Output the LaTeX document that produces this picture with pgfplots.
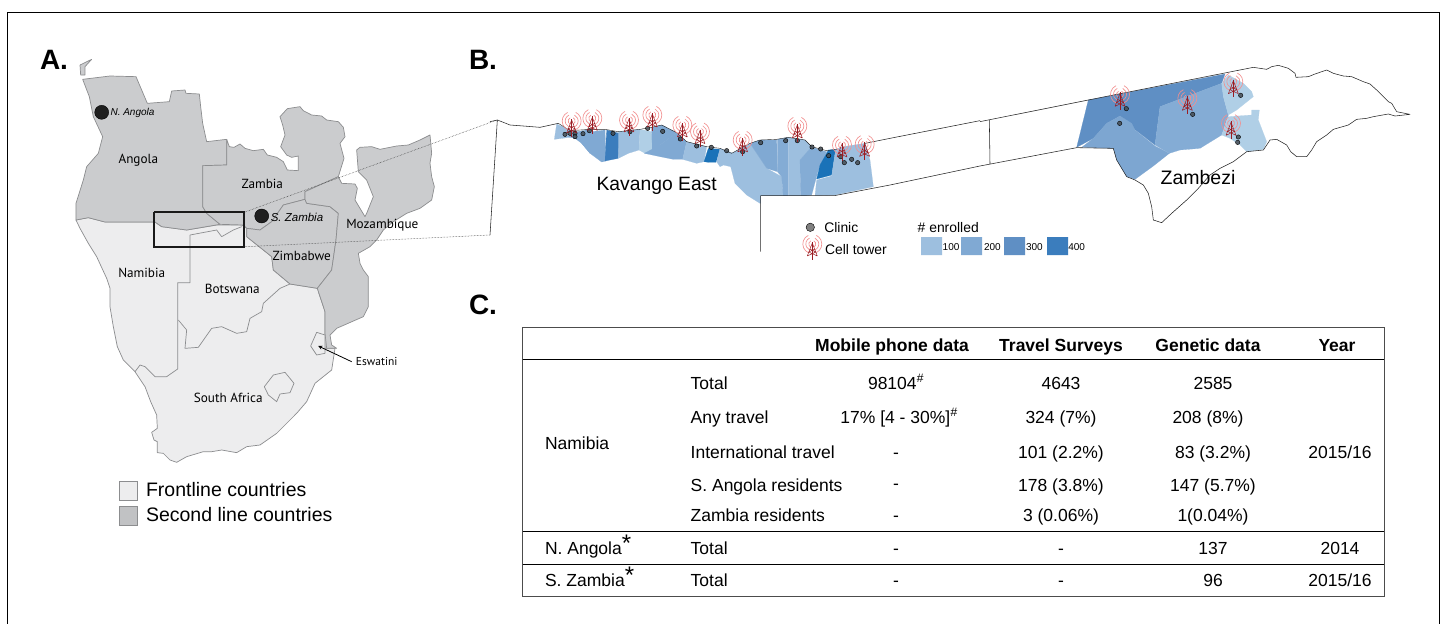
\documentclass[border=0pt]{standalone}
\usepackage{fontspec}
\setmainfont{Liberation Sans}
\newfontfamily\mapf{PT Sans}
\usepackage{pgfplots}
\pgfplotsset{compat=1.18}
\definecolor{front}{HTML}{EDEDEE}
\definecolor{second}{HTML}{CBCCCE}
\definecolor{edge}{HTML}{8C8D8F}
\definecolor{lb}{HTML}{B0CFE6}
\definecolor{ba}{HTML}{9DBFDF}
\definecolor{bb}{HTML}{80A9D3}
\definecolor{bc}{HTML}{5F8FC4}
\definecolor{bd}{HTML}{3B7DBD}
\definecolor{be}{HTML}{1A72B8}
\definecolor{clin}{HTML}{444B52}
\definecolor{towerred}{HTML}{9C1C22}
\definecolor{towerpink}{HTML}{F29090}
\pgfdeclareplotmark{tower}{%
  \pgfsetlinewidth{0.65pt}\pgfsetstrokecolor{towerpink}
  \foreach \r in {3.5,6.5,9.5}{%
    \pgfpathmoveto{\pgfpointpolar{-65}{\r pt}}
    \pgfpatharc{-65}{65}{\r pt}
    \pgfpathmoveto{\pgfpointpolar{115}{\r pt}}
    \pgfpatharc{115}{245}{\r pt}
    \pgfusepathqstroke}
  \pgfsetstrokecolor{towerred}\pgfsetlinewidth{0.9pt}
  \pgfpathmoveto{\pgfpoint{0pt}{2pt}}\pgfpathlineto{\pgfpoint{0pt}{-15.5pt}}\pgfusepathqstroke
  \pgfsetlinewidth{0.5pt}
  \pgfpathmoveto{\pgfpoint{-5pt}{-12pt}}\pgfpathlineto{\pgfpoint{0pt}{1pt}}\pgfpathlineto{\pgfpoint{5pt}{-12pt}}
  \pgfpathmoveto{\pgfpoint{-5pt}{-12pt}}\pgfpathlineto{\pgfpoint{3.5pt}{-8pt}}\pgfpathlineto{\pgfpoint{-2.5pt}{-5pt}}
  \pgfpathmoveto{\pgfpoint{5pt}{-12pt}}\pgfpathlineto{\pgfpoint{-3.5pt}{-8pt}}\pgfpathlineto{\pgfpoint{2.5pt}{-5pt}}
  \pgfusepathqstroke}
\pgfplotsset{
  A/.style={x filter/.expression={30+x/3},y filter/.expression={40+y/3}},
  K/.style={x filter/.expression={490+x/3},y filter/.expression={90+y/3}},
  Z/.style={x filter/.expression={980+x/3},y filter/.expression={60+y/3}},
  land/.style={A,draw=edge,line width=0.7pt,line join=round},
  reg/.style={fill=#1,draw=#1,line width=0.15pt,line join=round},
  blk/.style={black!85,line width=0.55pt,line join=round},
  clinics/.style={only marks,mark=*,mark size=2.2pt,mark options={draw=none,fill=clin,fill opacity=0.85}},
  towers/.style={only marks,mark=tower},
}
\newcommand{\tf}{\fontsize{17.5}{20}\selectfont}
\newcommand{\mf}{\mapf\fontsize{13.2}{16}\selectfont}
\tikzset{tt/.style={font=\tf,text height=15pt,text depth=3pt},
         th/.style={font=\bfseries\tf,text height=15pt,text depth=3pt}}
\begin{document}
\begin{tikzpicture}[every node/.style={inner sep=0pt,outer sep=0pt}]
\begin{axis}[scale only axis,width=1444pt,height=624pt,xmin=0,xmax=1444,ymin=0,ymax=624,y dir=reverse,hide axis,clip=true]
% background and frame
\addplot[fill=white,draw=none] coordinates {(0,0)(1444,0)(1444,624)(0,624)(0,0)};
\addplot[black,line width=0.8pt] coordinates {(7,640)(7,12)(1439,12)(1439,640)};
% ---- A: frontline countries
\addplot[land,fill=front] coordinates {(138,540)(150,565)(175,610)(200,650)(230,715)(240,745)(240,800)(250,860)(262,920)(280,960)(315,995)(345,1040)(362,1085)(380,1125)(382,1165)(365,1177)(372,1200)(382,1205)(382,1238)(400,1240)(420,1260)(440,1267)(470,1250)(520,1235)(545,1235)(575,1230)(620,1238)(650,1220)(690,1215)(740,1180)(800,1120)(830,1085)(855,1030)(880,1010)(905,990)(915,925)(885,925)(885,880)(885,815)(862,745)(780,732)(730,690)(725,650)(650,590)(650,565)(635,555)(560,555)(470,570)(395,560)(375,546)(225,546)(175,533)(138,540)};
% internal borders
\addplot[land] coordinates {(480,585)(480,728)(443,728)(443,987)(410,1010)(375,1010)(345,980)(330,975)(315,995)};
\addplot[land] coordinates {(445,840)(470,870)(465,925)(505,922)(545,865)(575,860)(620,880)(650,875)(660,835)(695,815)(700,790)(750,745)(780,732)};
\addplot[land] coordinates {(480,585)(560,570)(575,590)(610,570)(635,560)};
\addplot[land,fill=front] coordinates {(703,1040)(730,1005)(765,997)(792,1030)(780,1058)(750,1062)(740,1085)(715,1065)(703,1040)};
% ---- A: second line countries
\addplot[land,fill=second] coordinates {(150,75)(185,58)(165,80)(165,105)(152,105)(150,75)};
\addplot[land,fill=second] coordinates {(158,118)(240,108)(318,110)(352,190)(418,185)(425,153)(465,150)(468,160)(508,162)(512,200)(518,250)(530,305)(590,298)(590,375)(518,377)(518,500)(530,520)(570,553)(470,570)(395,560)(375,546)(225,546)(175,533)(138,540)(138,490)(160,420)(170,380)(205,340)(218,290)(190,230)(178,170)(158,118)};
\addplot[land,fill=second] coordinates {(590,298)(598,320)(612,322)(630,312)(645,325)(670,332)(700,328)(712,345)(740,352)(760,365)(772,390)(805,392)(805,348)(785,352)(770,345)(752,320)(765,285)(758,255)(750,230)(772,206)(810,200)(820,212)(845,225)(875,228)(890,240)(925,245)(940,262)(945,290)(930,310)(942,355)(925,410)(825,455)(825,478)(760,495)(725,545)(690,570)(650,565)(640,555)(570,553)(530,520)(518,500)(518,377)(590,375)(590,298)};
\addplot[land,fill=second] coordinates {(650,565)(690,570)(725,545)(760,495)(825,478)(830,490)(900,500)(925,520)(918,600)(905,690)(862,745)(780,732)(730,690)(725,650)(650,590)(650,565)};
\addplot[land,fill=second] coordinates {(825,455)(925,410)(935,430)(975,432)(982,445)(975,480)(1005,530)(1010,520)(1030,470)(1010,420)(985,395)(980,330)(990,322)(1025,320)(1050,328)(1100,318)(1135,315)(1170,300)(1200,285)(1205,340)(1200,370)(1205,410)(1213,440)(1205,480)(1170,505)(1130,520)(1090,545)(1060,570)(1040,600)(1020,620)(985,640)(990,670)(1000,690)(1015,710)(1015,800)(1000,830)(920,865)(900,885)(905,915)(920,925)(890,925)(885,880)(885,815)(862,745)(905,690)(918,600)(925,520)(900,500)(830,490)(825,478)(825,455)};
\addplot[land,fill=front] coordinates {(860,877)(885,885)(885,940)(860,945)(842,918)(860,877)};
% box and guide lines
\addplot[A,black!90,line width=2.3pt,line join=miter] coordinates {(372,516)(642,516)(642,620)(372,620)(372,516)};
\addplot[black!80,line width=0.5pt,densely dotted] coordinates {(245,212)(497,120)};
\addplot[black!80,line width=0.5pt,densely dotted] coordinates {(245,246.7)(490,235)};
\addplot[black,line width=0.8pt,-stealth] coordinates {(351.7,361.7)(318.3,346)};
% dots
\addplot[only marks,mark=*,mark size=7pt,mark options={draw=none,fill=black!88}] coordinates {(101.7,112.3)(261.7,216)};
% legend A
\addplot[draw=edge,line width=0.7pt,fill=front] coordinates {(119,481.7)(137.7,481.7)(137.7,500)(119,500)(119,481.7)};
\addplot[draw=edge,line width=0.7pt,fill=second!95!black] coordinates {(119,506.7)(137.7,506.7)(137.7,525)(119,525)(119,506.7)};
% ---- B: Kavango regions (zoom units)
\addplot[K,reg=ba] coordinates {(193,148)(200,102)(240,120)(262,125)(240,142)(193,148)};
\addplot[K,reg=bb] coordinates {(232,140)(262,125)(300,118)(300,190)(275,160)(255,145)(232,140)};
\addplot[K,reg=bb] coordinates {(265,130)(345,120)(348,213)(335,216)(300,190)(275,160)(265,130)};
\addplot[K,reg=bd] coordinates {(350,120)(388,130)(385,205)(345,213)(350,120)};
\addplot[K,reg=ba] coordinates {(385,125)(450,118)(447,180)(415,190)(385,205)(385,125)};
\addplot[K,reg=lb] coordinates {(450,118)(485,125)(487,188)(465,190)(447,180)(450,118)};
\addplot[K,reg=bb] coordinates {(485,112)(515,105)(560,128)(510,165)(487,188)(485,112)};
\addplot[K,reg=bb] coordinates {(560,128)(590,155)(578,208)(550,208)(510,200)(463,190)(510,165)(560,128)};
\addplot[K,reg=ba] coordinates {(590,155)(650,170)(642,215)(620,220)(578,208)(590,155)};
\addplot[K,reg=be] coordinates {(655,175)(690,178)(678,217)(655,217)(642,215)(655,175)};
\addplot[K,reg=ba] coordinates {(690,175)(730,190)(722,230)(700,225)(690,230)(680,215)(690,175)};
\addplot[K,reg=ba] coordinates {(725,190)(780,160)(830,235)(875,260)(880,320)(810,340)(770,315)(735,280)(722,230)(725,190)};
\addplot[K,reg=bb] coordinates {(780,160)(810,150)(860,150)(862,245)(830,235)(780,160)};
\addplot[K,reg=bb!85!ba] coordinates {(862,148)(895,142)(895,320)(880,320)(875,260)(862,245)(862,148)};
\addplot[K,reg=ba] coordinates {(895,142)(945,150)(965,170)(930,210)(932,320)(895,320)(895,142)};
\addplot[K,reg=bb!85!ba] coordinates {(930,210)(965,170)(990,180)(1010,185)(985,240)(965,315)(932,320)(930,210)};
\addplot[K,reg=be] coordinates {(1015,180)(1037,178)(1025,255)(980,267)(990,225)(1015,180)};
\addplot[K,reg=ba] coordinates {(1037,178)(1060,170)(1125,160)(1140,210)(1150,290)(1035,315)(975,317)(980,270)(1025,258)(1037,178)};
% white cover below the Kavango cut-out
\addplot[fill=white,draw=none] coordinates {(761,196)(834,196)(834,260)(761,260)(761,196)};
% Kavango outline
\addplot[K,blk] coordinates {(0,95)(22,90)(40,97)(60,105)(100,108)(150,112)(205,100)};
\addplot[K,blk] coordinates {(22,90)(0,435)};
\addplot[K,blk,line width=0.4pt] coordinates {(205,100)(240,122)(300,118)(345,118)(385,125)(450,118)(485,112)(515,105)(560,128)(590,155)(650,170)(690,175)(725,190)(780,160)(810,150)(860,148)(895,142)(945,150)(965,170)(1010,182)(1040,178)};
\addplot[K,blk] coordinates {(1125,160)(1200,145)(1470,92)};
\addplot[K,blk] coordinates {(812,485)(812,317)(1033,317)(1200,285)(1470,228)};
% ---- B: Zambezi regions
\addplot[Z,reg=bc] coordinates {(325,120)(735,42)(725,70)(540,140)(525,255)(460,205)(420,168)(380,190)(340,235)(290,262)(325,120)};
\addplot[Z,reg=bb!90!bc] coordinates {(305,262)(340,235)(380,190)(420,168)(455,190)(465,210)(525,258)(568,280)(520,318)(465,358)(440,350)(410,300)(400,265)(305,262)};
\addplot[Z,reg=bb!85!ba] coordinates {(540,140)(725,70)(730,110)(745,165)(725,225)(660,265)(600,270)(568,280)(525,255)(540,140)};
\addplot[Z,reg=lb] coordinates {(725,70)(745,45)(790,70)(815,95)(820,110)(770,150)(745,165)(730,110)(725,70)};
\addplot[Z,reg=lb] coordinates {(725,225)(745,170)(815,165)(815,150)(838,150)(835,180)(860,245)(850,268)(800,275)(780,255)(750,235)(725,225)};
\addplot[Z,blk] coordinates {(0,185)(325,120)(820,22)(860,28)(875,20)(895,16)(925,25)(945,40)(948,52)(985,50)(1005,42)(1040,30)(1060,40)(1090,48)(1115,50)(1150,65)(1170,72)(1190,90)(1205,105)(1225,125)(1235,130)(1250,155)(1290,163)(1245,168)(1225,162)(1180,170)(1160,175)(1130,178)(1105,195)(1060,208)(1040,225)(1010,245)(995,270)(980,290)(950,290)(932,275)(920,255)(890,238)(870,240)(850,270)(800,275)(760,305)(720,325)(690,345)(655,385)(620,420)(575,460)(545,488)(520,480)(515,440)(505,400)(490,375)(465,360)(440,350)(410,300)(400,265)(290,263)(0,318)};
\addplot[Z,blk] coordinates {(28,180)(30,312)};
% clinics
\addplot[K,clinics] coordinates {(225,133)(240,130)(255,130)(255,140)(279,131)(298,122)(369,130)(420,125)(473,115)(518,124)(571,147)(620,168)(664,172)(710,182)(758,185)(812,158)(887,152)(922,152)(966,171)(992,177)(1016,197)(1052,200)(1063,218)(1085,208)(1103,218)};
\addplot[Z,clinics] coordinates {(439,146)(419,190)(638,163)(782,106)(775,231)(773,247)};
% towers
\addplot[K,towers] coordinates {(245,93)(307,85)(417,90)(487,75)(577,105)(630,125)(758,150)(922,108)(1056,165)(1124,163)};
\addplot[Z,towers] coordinates {(420,103)(622,115)(760,65)(753,190)};
% legend B
\addplot[only marks,mark=*,mark size=4.2pt,mark options={draw=none,fill=gray}] coordinates {(810.3,227.3)};
\addplot[towers] coordinates {(812.3,244)};
\addplot[fill=ba,draw=none] coordinates {(921,237)(942,237)(942,255)(921,255)(921,237)};
\addplot[fill=bb,draw=none] coordinates {(961,237)(982,237)(982,255)(961,255)(961,237)};
\addplot[fill=bc,draw=none] coordinates {(1004,237)(1025,237)(1025,255)(1004,255)(1004,237)};
\addplot[fill=bd,draw=none] coordinates {(1047,237)(1068,237)(1068,255)(1047,255)(1047,237)};
% ---- C: table rules
\addplot[black!70,line width=0.8pt] coordinates {(522.5,327.3)(1384,327.3)(1384,596.7)(522.5,596.7)(522.5,327.3)};
\addplot[black,line width=0.7pt] coordinates {(522.5,359.3)(1384,359.3)};
\addplot[black,line width=0.7pt] coordinates {(522.5,531.3)(1384,531.3)};
\addplot[black,line width=0.7pt] coordinates {(522.5,564.3)(1384,564.3)};
% ---- text
\node[font=\bfseries\fontsize{28}{30}\selectfont] at (axis cs:54,60) {A.};
\node[font=\bfseries\fontsize{28}{30}\selectfont] at (axis cs:483,60) {B.};
\node[font=\bfseries\fontsize{28}{30}\selectfont] at (axis cs:483,305) {C.};
\node[font=\mf] at (axis cs:138.3,160) {Angola};
\node[font=\mf] at (axis cs:262.3,184.3) {Zambia};
\node[font=\mf] at (axis cs:382.3,225) {Mozambique};
\node[font=\mf] at (axis cs:301.7,256) {Zimbabwe};
\node[font=\mf] at (axis cs:141.7,272.7) {Namibia};
\node[font=\mf] at (axis cs:232.3,289) {Botswana};
\node[font=\mf] at (axis cs:228.3,397.7) {South Africa};
\node[font=\mapf\fontsize{11.5}{14}\selectfont] at (axis cs:376.7,361.7) {Eswatini};
\node[font=\itshape\fontsize{10}{12}\selectfont] at (axis cs:132.5,112.7) {N. Angola};
\node[font=\itshape\fontsize{11.5}{14}\selectfont] at (axis cs:297,217.5) {S. Zambia};
\node[anchor=west,font=\fontsize{19.5}{22}\selectfont] at (axis cs:146,490) {Frontline countries};
\node[anchor=west,font=\fontsize{19.5}{22}\selectfont] at (axis cs:146,514.3) {Second line countries};
\node[font=\fontsize{19.3}{22}\selectfont] at (axis cs:656.7,185.7) {Kavango East};
\node[font=\fontsize{19.5}{22}\selectfont] at (axis cs:1198,178) {Zambezi};
\node[anchor=west,font=\fontsize{13.9}{16}\selectfont] at (axis cs:824.3,227.3) {Clinic};
\node[anchor=west,font=\fontsize{13.9}{16}\selectfont] at (axis cs:825,250) {Cell tower};
\node[anchor=west,font=\fontsize{13.9}{16}\selectfont] at (axis cs:917.7,227.3) {\# enrolled};
\node[anchor=west,font=\fontsize{10}{12}\selectfont] at (axis cs:942.7,246.7) {100};
\node[anchor=west,font=\fontsize{10}{12}\selectfont] at (axis cs:984,246.7) {200};
\node[anchor=west,font=\fontsize{10}{12}\selectfont] at (axis cs:1026,246.7) {300};
\node[anchor=west,font=\fontsize{10}{12}\selectfont] at (axis cs:1068.3,246.7) {400};
% table text
\node[th] at (axis cs:892,345) {Mobile phone data};
\node[th] at (axis cs:1061,345) {Travel Surveys};
\node[th] at (axis cs:1208,345) {Genetic data};
\node[th] at (axis cs:1337,345) {Year};
\node[anchor=west,tt] at (axis cs:545,443) {Namibia};
\node[anchor=west,tt] at (axis cs:545,548.3) {N. Angola\raisebox{3pt}{\fontsize{24}{24}\selectfont *}};
\node[anchor=west,tt] at (axis cs:545,580.7) {S. Zambia\raisebox{3pt}{\fontsize{24}{24}\selectfont *}};
\node[anchor=west,tt] at (axis cs:690.7,383) {Total};
\node[anchor=west,tt] at (axis cs:690.7,417) {Any travel};
\node[anchor=west,tt] at (axis cs:690.7,452.3) {International travel};
\node[anchor=west,tt] at (axis cs:690.7,485) {S. Angola residents};
\node[anchor=west,tt] at (axis cs:690.7,515) {Zambia residents};
\node[anchor=west,tt] at (axis cs:690.7,548.3) {Total};
\node[anchor=west,tt] at (axis cs:690.7,580.7) {Total};
\node[tt] at (axis cs:896,383) {98104\textsuperscript{\itshape\#}};
\node[tt] at (axis cs:899,417) {17\% [4 - 30\%]\textsuperscript{\itshape\#}};
\node[tt] at (axis cs:896,452.3) {-};
\node[tt] at (axis cs:896,483) {-};
\node[tt] at (axis cs:896,515) {-};
\node[tt] at (axis cs:896,548.3) {-};
\node[tt] at (axis cs:896,580.7) {-};
\node[tt] at (axis cs:1061,383) {4643};
\node[tt] at (axis cs:1061,417) {324 (7\%)};
\node[tt] at (axis cs:1061,452.3) {101 (2.2\%)};
\node[tt] at (axis cs:1061,485) {178 (3.8\%)};
\node[tt] at (axis cs:1061,515) {3 (0.06\%)};
\node[tt] at (axis cs:1061,548.3) {-};
\node[tt] at (axis cs:1061,580.7) {-};
\node[tt] at (axis cs:1213,383) {2585};
\node[tt] at (axis cs:1208,417) {208 (8\%)};
\node[tt] at (axis cs:1213,452.3) {83 (3.2\%)};
\node[tt] at (axis cs:1213,485) {147 (5.7\%)};
\node[tt] at (axis cs:1213,515) {1(0.04\%)};
\node[tt] at (axis cs:1213,548.3) {137};
\node[tt] at (axis cs:1213,580.7) {96};
\node[tt] at (axis cs:1340,452.3) {2015/16};
\node[tt] at (axis cs:1340,548.3) {2014};
\node[tt] at (axis cs:1340,580.7) {2015/16};
\end{axis}
\end{tikzpicture}
\end{document}
